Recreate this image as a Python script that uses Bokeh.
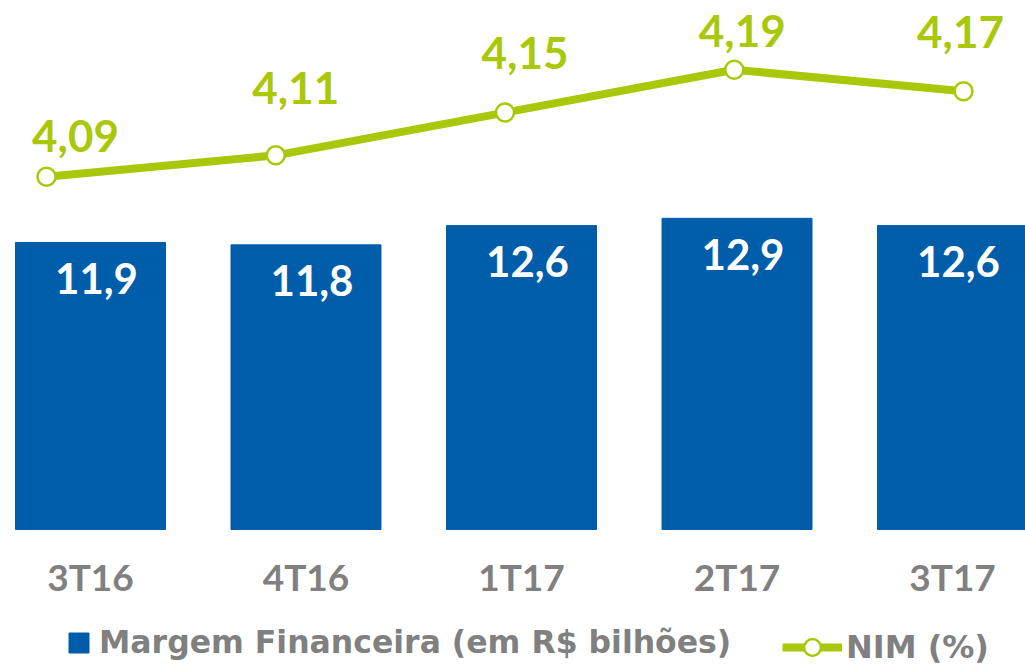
from bokeh.plotting import figure
from bokeh.models import Range1d, Legend, LegendItem, ColumnDataSource
from bokeh.core.properties import value
from bokeh.embed import file_html
from bokeh.resources import INLINE

# ---- data ----
quarters = ["3T16", "4T16", "1T17", "2T17", "3T17"]
margem = [11.9, 11.8, 12.6, 12.9, 12.6]          # Margem Financeira (R$ bilhões)
nim = [4.09, 4.11, 4.15, 4.19, 4.17]             # NIM (%)

# ---- style ----
BLUE = "#005DAA"
GREEN = "#AAC80A"
GRAY = "#808080"
FONT = "Lato"
LEG_FONT = "DejaVu Sans"
nim_label_dx = [29, 20, 20, 8, -3]
nim_label_dy = [-41, -67, -60, -39, -59]

idx = list(range(len(quarters)))
fmt = lambda v, d: f"{v:.{d}f}".replace(".", ",")

bar_src = ColumnDataSource(dict(x=idx, top=margem, base=[0] * len(idx), cat=quarters,
                                lab=[fmt(v, 1) for v in margem]))
nim_src = ColumnDataSource(dict(x=idx, y=nim, lab=[fmt(v, 2) for v in nim],
                                dx=nim_label_dx, dy=nim_label_dy))

p = figure(frame_width=1025, frame_height=668,
           x_range=Range1d(-0.4176, 4.3387), y_range=Range1d(-5.763, 21.93),
           output_backend="svg", toolbar_location=None,
           x_axis_location=None, y_axis_location=None,
           min_border=0, min_border_left=0, min_border_right=0,
           min_border_top=0, min_border_bottom=0)
p.outline_line_color = None
p.xgrid.visible = False
p.ygrid.visible = False
p.background_fill_color = "white"
p.border_fill_color = "white"

p.extra_x_ranges = {"nim": Range1d(-0.2007, 4.2705)}
p.extra_y_ranges = {"nim": Range1d(3.6301, 4.2548)}

# bars
bars = p.vbar(x="x", top="top", width=0.696, bottom=0, source=bar_src,
              fill_color=BLUE, line_color=BLUE)
p.text(x="x", y="top", text="lab", source=bar_src, x_offset=6, y_offset=36,
       text_align="center", text_baseline="middle", text_color="white",
       text_font=value(FONT), text_font_style="bold", text_font_size="42px")
# category labels under the bars
p.text(x="x", y="base", text="cat", source=bar_src, y_offset=47,
       text_align="center", text_baseline="middle", text_color=GRAY,
       text_font=value(FONT), text_font_style="bold", text_font_size="37px")

# line
ln = p.line(x="x", y="y", source=nim_src, x_range_name="nim", y_range_name="nim",
            line_color=GREEN, line_width=8)
pts = p.scatter(x="x", y="y", source=nim_src, x_range_name="nim", y_range_name="nim",
                marker="circle", size=18, fill_color="white", line_color=GREEN, line_width=2.5)
p.text(x="x", y="y", text="lab", source=nim_src, x_range_name="nim", y_range_name="nim",
       x_offset="dx", y_offset="dy", text_align="center", text_baseline="middle",
       text_color=GREEN, text_font=value(FONT), text_font_style="bold", text_font_size="44px")

# legends
leg_common = dict(orientation="horizontal", label_text_font=LEG_FONT,
                  label_text_font_style="bold", label_text_color=GRAY,
                  padding=0, margin=0, border_line_color=None, background_fill_alpha=0)
leg1 = Legend(items=[LegendItem(label="Margem Financeira (em R$ bilhões)", renderers=[bars])],
              location=(66, 8), label_text_font_size="31.5px",
              glyph_width=25, glyph_height=25, label_standoff=8, **leg_common)
leg2 = Legend(items=[LegendItem(label="NIM (%)", renderers=[ln, pts])],
              location=(782, 0), label_text_font_size="32px",
              glyph_width=60, glyph_height=42, label_standoff=4, **leg_common)
p.add_layout(leg1, "center")
p.add_layout(leg2, "center")

open("out.html", "w").write(file_html(p, INLINE))
